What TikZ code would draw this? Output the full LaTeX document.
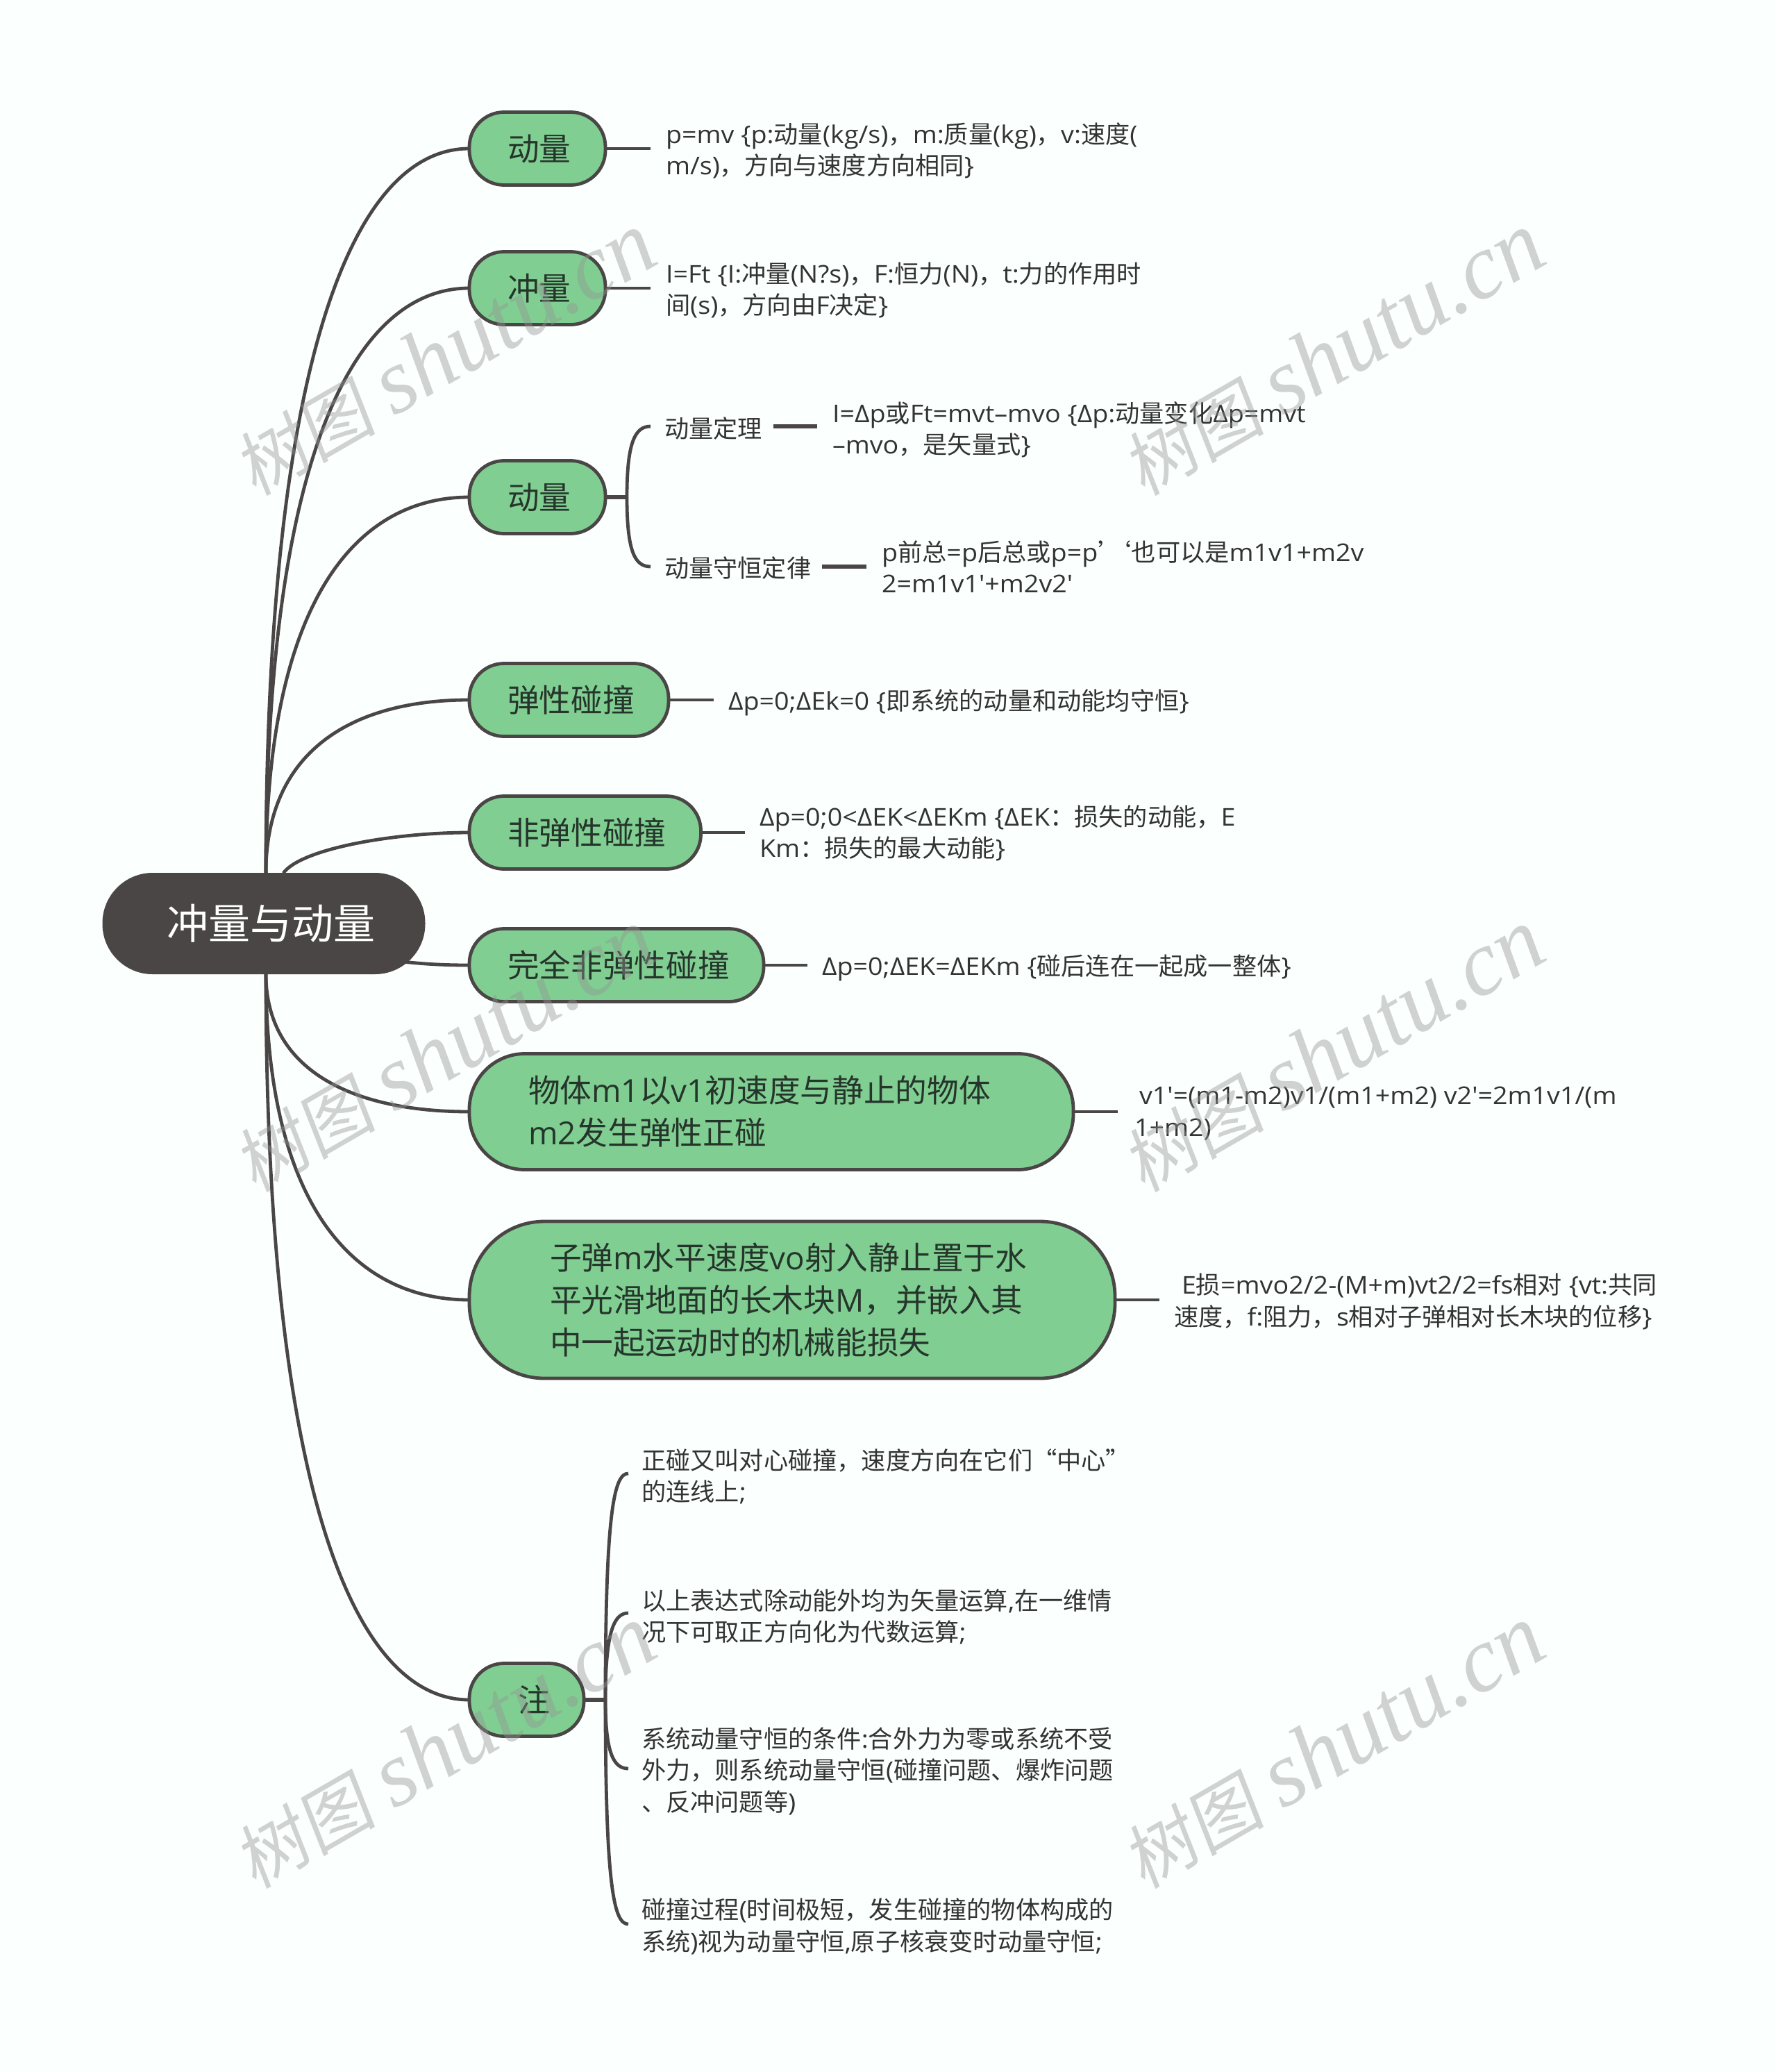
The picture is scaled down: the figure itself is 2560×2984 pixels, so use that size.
\documentclass[tikz,border=0pt]{standalone}
\usepackage{fontspec}
\usetikzlibrary{backgrounds}
\setmainfont{Open Sans}
\newfontfamily\cjkfont{Noto Sans CJK SC}
\newfontfamily\desclat{Open Sans}[FakeStretch=1.07]
\newfontfamily\wmlatit{Liberation Serif Italic}
\newfontfamily\wmcjk{Noto Sans CJK SC}[FakeSlant=0.15]
% automatic font switching between Latin and CJK runs
\newcount\cjkcnt
\newcommand\cjkrange[2]{\cjkcnt=#1\relax
  \loop\XeTeXcharclass\cjkcnt=10\relax\ifnum\cjkcnt<#2\advance\cjkcnt by 1\repeat}
\cjkrange{"4E00}{"9FFF}
\cjkrange{"3000}{"303F}
\cjkrange{"FF00}{"FFEF}
\cjkrange{"2018}{"2019}
\cjkrange{"201C}{"201D}
\newcommand\latinf{\rmfamily}
\XeTeXinterchartoks 0 10={\cjkfont}
\XeTeXinterchartoks 4095 10={\cjkfont}
\XeTeXinterchartoks 10 0={\latinf}
\XeTeXinterchartoks 10 4095={\latinf}
\XeTeXinterchartokenstate=1
\newcommand\cstrut{\leavevmode\vrule width 0pt height \dimexpr.38em+.5\baselineskip\relax depth \dimexpr.5\baselineskip-.38em\relax}
\definecolor{bgc}{HTML}{FBFFFE}
\definecolor{ink}{HTML}{4A4646}
\definecolor{leaf}{HTML}{80CE92}
\definecolor{txt}{HTML}{333333}
\definecolor{toptxt}{HTML}{26352B}
\tikzset{
  strutted/.style={execute at begin node=\cstrut,execute at end node=\cstrut},
  topic/.style n args={4}{draw=ink,line width=4.8pt,fill=leaf,text=toptxt,rounded corners=#3pt,
     anchor=west,outer sep=0pt,inner ysep=0pt,inner xsep=#4pt,text width=#1pt,minimum height=#2pt,align=left,
     font=\fontsize{45.7}{61}\selectfont,strutted},
  rootnode/.style={draw=ink,line width=1pt,fill=ink,text=white,rounded corners=72pt,outer sep=0pt,inner ysep=0pt,
     inner xsep=92pt,text width=280pt,minimum height=145pt,align=left,font=\fontsize{60}{72}\selectfont,strutted},
  desc/.style={anchor=west,inner sep=0pt,outer sep=0pt,text=txt,align=left,
     font=\fontsize{35.2}{45.5}\selectfont\desclat\let\latinf\desclat,strutted},
  conn/.style={draw=ink,line width=4.8pt},
  stub/.style={draw=ink,line width=5.2pt},
  wm/.style={rotate=30,inner sep=0pt,text=black!42,opacity=.42}
}
\newcommand\wmtext{\XeTeXinterchartokenstate=0 {\fontsize{102}{130}\selectfont\wmcjk 树图}\hspace{26pt}{\fontsize{133}{130}\selectfont\wmlatit shutu.cn}}
\begin{document}
\begin{tikzpicture}[x=1pt,y=-1pt]
\useasboundingbox (0,0) rectangle (2560,2984);
\begin{pgfonlayer}{background}
\fill[bgc] (0,0) rectangle (2560,2984);
\end{pgfonlayer}
% nodes
\node[rootnode] (root) at (380,1330) {冲量与动量};
\node[topic={86}{105}{50}{55}] (t1) at (676,214) {动量};
\node[topic={86}{105}{50}{55}] (t2) at (676,415) {冲量};
\node[topic={86}{105}{50}{55}] (t3) at (676,716) {动量};
\node[topic={177}{105}{50}{55}] (t4) at (676,1008) {弹性碰撞};
\node[topic={223.5}{105}{50}{55}] (t5) at (676,1199) {非弹性碰撞};
\node[topic={314}{105}{50}{55}] (t6) at (676,1390) {完全非弹性碰撞};
\node[topic={700}{167}{80}{85}] (t7) at (676,1601) {物体m1以v1初速度与静止的物体\\m2发生弹性正碰};
\node[topic={698}{226}{108}{116}] (t8) at (676,1872) {子弹m水平速度vo射入静止置于水\\平光滑地面的长木块M，并嵌入其\\中一起运动时的机械能损失};
\node[topic={25}{105}{50}{70}] (t9) at (676,2448) {注};
% descriptions
\node[desc] (d1) at (959,219) {p=mv \{p:动量(kg/s)，m:质量(kg)，v:速度(\\m/s)，方向与速度方向相同\}};
\node[desc] (d2) at (959,420) {I=Ft \{I:冲量(N?s)，F:恒力(N)，t:力的作用时\\间(s)，方向由F决定\}};
\node[desc] (d3a) at (957,617) {动量定理};
\node[desc] (d3b) at (1199,620.5) {I=Δp或Ft=mvt–mvo \{Δp:动量变化Δp=mvt\\–mvo，是矢量式\}};
\node[desc] (d3c) at (957,818) {动量守恒定律};
\node[desc] (d3d) at (1270,821) {p前总=p后总或p=p’\kern-22pt‘也可以是m1v1+m2v\\2=m1v1'+m2v2'};
\node[desc] (d4) at (1049,1009) {Δp=0;ΔEk=0 \{即系统的动量和动能均守恒\}};
\node[desc] (d5) at (1094,1202) {Δp=0;0<ΔEK<ΔEKm \{ΔEK：损失的动能，E\\Km：损失的最大动能\}};
\node[desc] (d6) at (1184,1391) {Δp=0;ΔEK=ΔEKm \{碰后连在一起成一整体\}};
\node[desc] (d7) at (1634,1605.5) {\hspace*{7pt}v1'=(m1-m2)v1/(m1+m2) v2'=2m1v1/(m\\1+m2)};
\node[desc] (d8) at (1691,1876.5) {\hspace*{11pt}E损=mvo2/2-(M+m)vt2/2=fs相对 \{vt:共同\\速度，f:阻力，s相对子弹相对长木块的位移\}};
\node[desc] (n1) at (924,2129) {正碰又叫对心碰撞，速度方向在它们“中心”\\的连线上;};
\node[desc] (n2) at (924,2330.5) {以上表达式除动能外均为矢量运算,在一维情\\况下可取正方向化为代数运算;};
\node[desc] (n3) at (924,2552.5) {系统动量守恒的条件:合外力为零或系统不受\\外力，则系统动量守恒(碰撞问题、爆炸问题\\、反冲问题等)};
\node[desc] (n4) at (924,2776.5) {碰撞过程(时间极短，发生碰撞的物体构成的\\系统)视为动量守恒,原子核衰变时动量守恒;};
% free ends
\coordinate (e1) at (937,214);
\coordinate (e2) at (937,415);
\coordinate (b3) at (903,716);
\coordinate (b3a) at (937,614);
\coordinate (b3c) at (937,816);
\coordinate (e3a) at (1114,614);
\coordinate (f3a) at (1177,614);
\coordinate (e3c) at (1184,816);
\coordinate (f3c) at (1248,816);
\coordinate (e4) at (1028,1008);
\coordinate (e5) at (1073,1199);
\coordinate (e6) at (1163,1390);
\coordinate (e7) at (1610,1601);
\coordinate (e8) at (1670,1872);
\coordinate (b9) at (872,2448);
\coordinate (b91) at (905,2122);
\coordinate (b92) at (905,2323);
\coordinate (b93) at (905,2547);
\coordinate (b94) at (905,2771);
\coordinate (rn) at ([xshift=3pt]root.north);
\coordinate (rs) at ([xshift=3pt]root.south);
\coordinate (s5) at ([xshift=28pt]root.north);
% connectors
\begin{pgfonlayer}{background}
\draw[conn] (rn) .. controls +(0,-731) and +(-170,0) .. (t1.west);
\draw[conn] (rn) .. controls +(0,-590) and +(-170,0) .. (t2.west);
\draw[conn] (rn) .. controls +(0,-380) and +(-170,0) .. (t3.west);
\draw[conn] (rn) .. controls +(0,-175) and +(-170,0) .. (t4.west);
\draw[conn] (s5) .. controls +(25,-35) and +(-110,0) .. (t5.west);
\draw[conn] (root.center) .. controls +(120,56) and +(-60,0) .. (t6.west);
\draw[conn] (rs) .. controls +(0,138) and +(-170,0) .. (t7.west);
\draw[conn] (rs) .. controls +(0,328) and +(-170,0) .. (t8.west);
\draw[conn] (rs) .. controls +(0,731) and +(-170,0) .. (t9.west);
\draw[conn] (t1.east) -- (e1);
\draw[conn] (t2.east) -- (e2);
\draw[stub] (t3.east) -- (b3);
\draw[conn] (b3) .. controls +(0,-80) and +(-22,0) .. (b3a);
\draw[conn] (b3) .. controls +(0,80) and +(-22,0) .. (b3c);
\draw[stub] (e3a) -- (f3a);
\draw[stub] (e3c) -- (f3c);
\draw[conn] (t4.east) -- (e4);
\draw[conn] (t5.east) -- (e5);
\draw[conn] (t6.east) -- (e6);
\draw[conn] (t7.east) -- (e7);
\draw[conn] (t8.east) -- (e8);
\draw[stub] (t9.east) -- (b9);
\draw[conn] (b9) .. controls +(0,-275) and +(-20,0) .. (b91);
\draw[conn] (b9) .. controls +(0,-100) and +(-20,0) .. (b92);
\draw[conn] (b9) .. controls +(0,80) and +(-20,0) .. (b93);
\draw[conn] (b9) .. controls +(0,275) and +(-20,0) .. (b94);
\end{pgfonlayer}
% watermarks
\node[wm] (w1) at (640,510) {\wmtext};
\node[wm] (w2) at (1920,510) {\wmtext};
\node[wm] (w3) at (640,1513) {\wmtext};
\node[wm] (w4) at (1920,1513) {\wmtext};
\node[wm] (w5) at (640,2516) {\wmtext};
\node[wm] (w6) at (1920,2516) {\wmtext};
\end{tikzpicture}
\end{document}
